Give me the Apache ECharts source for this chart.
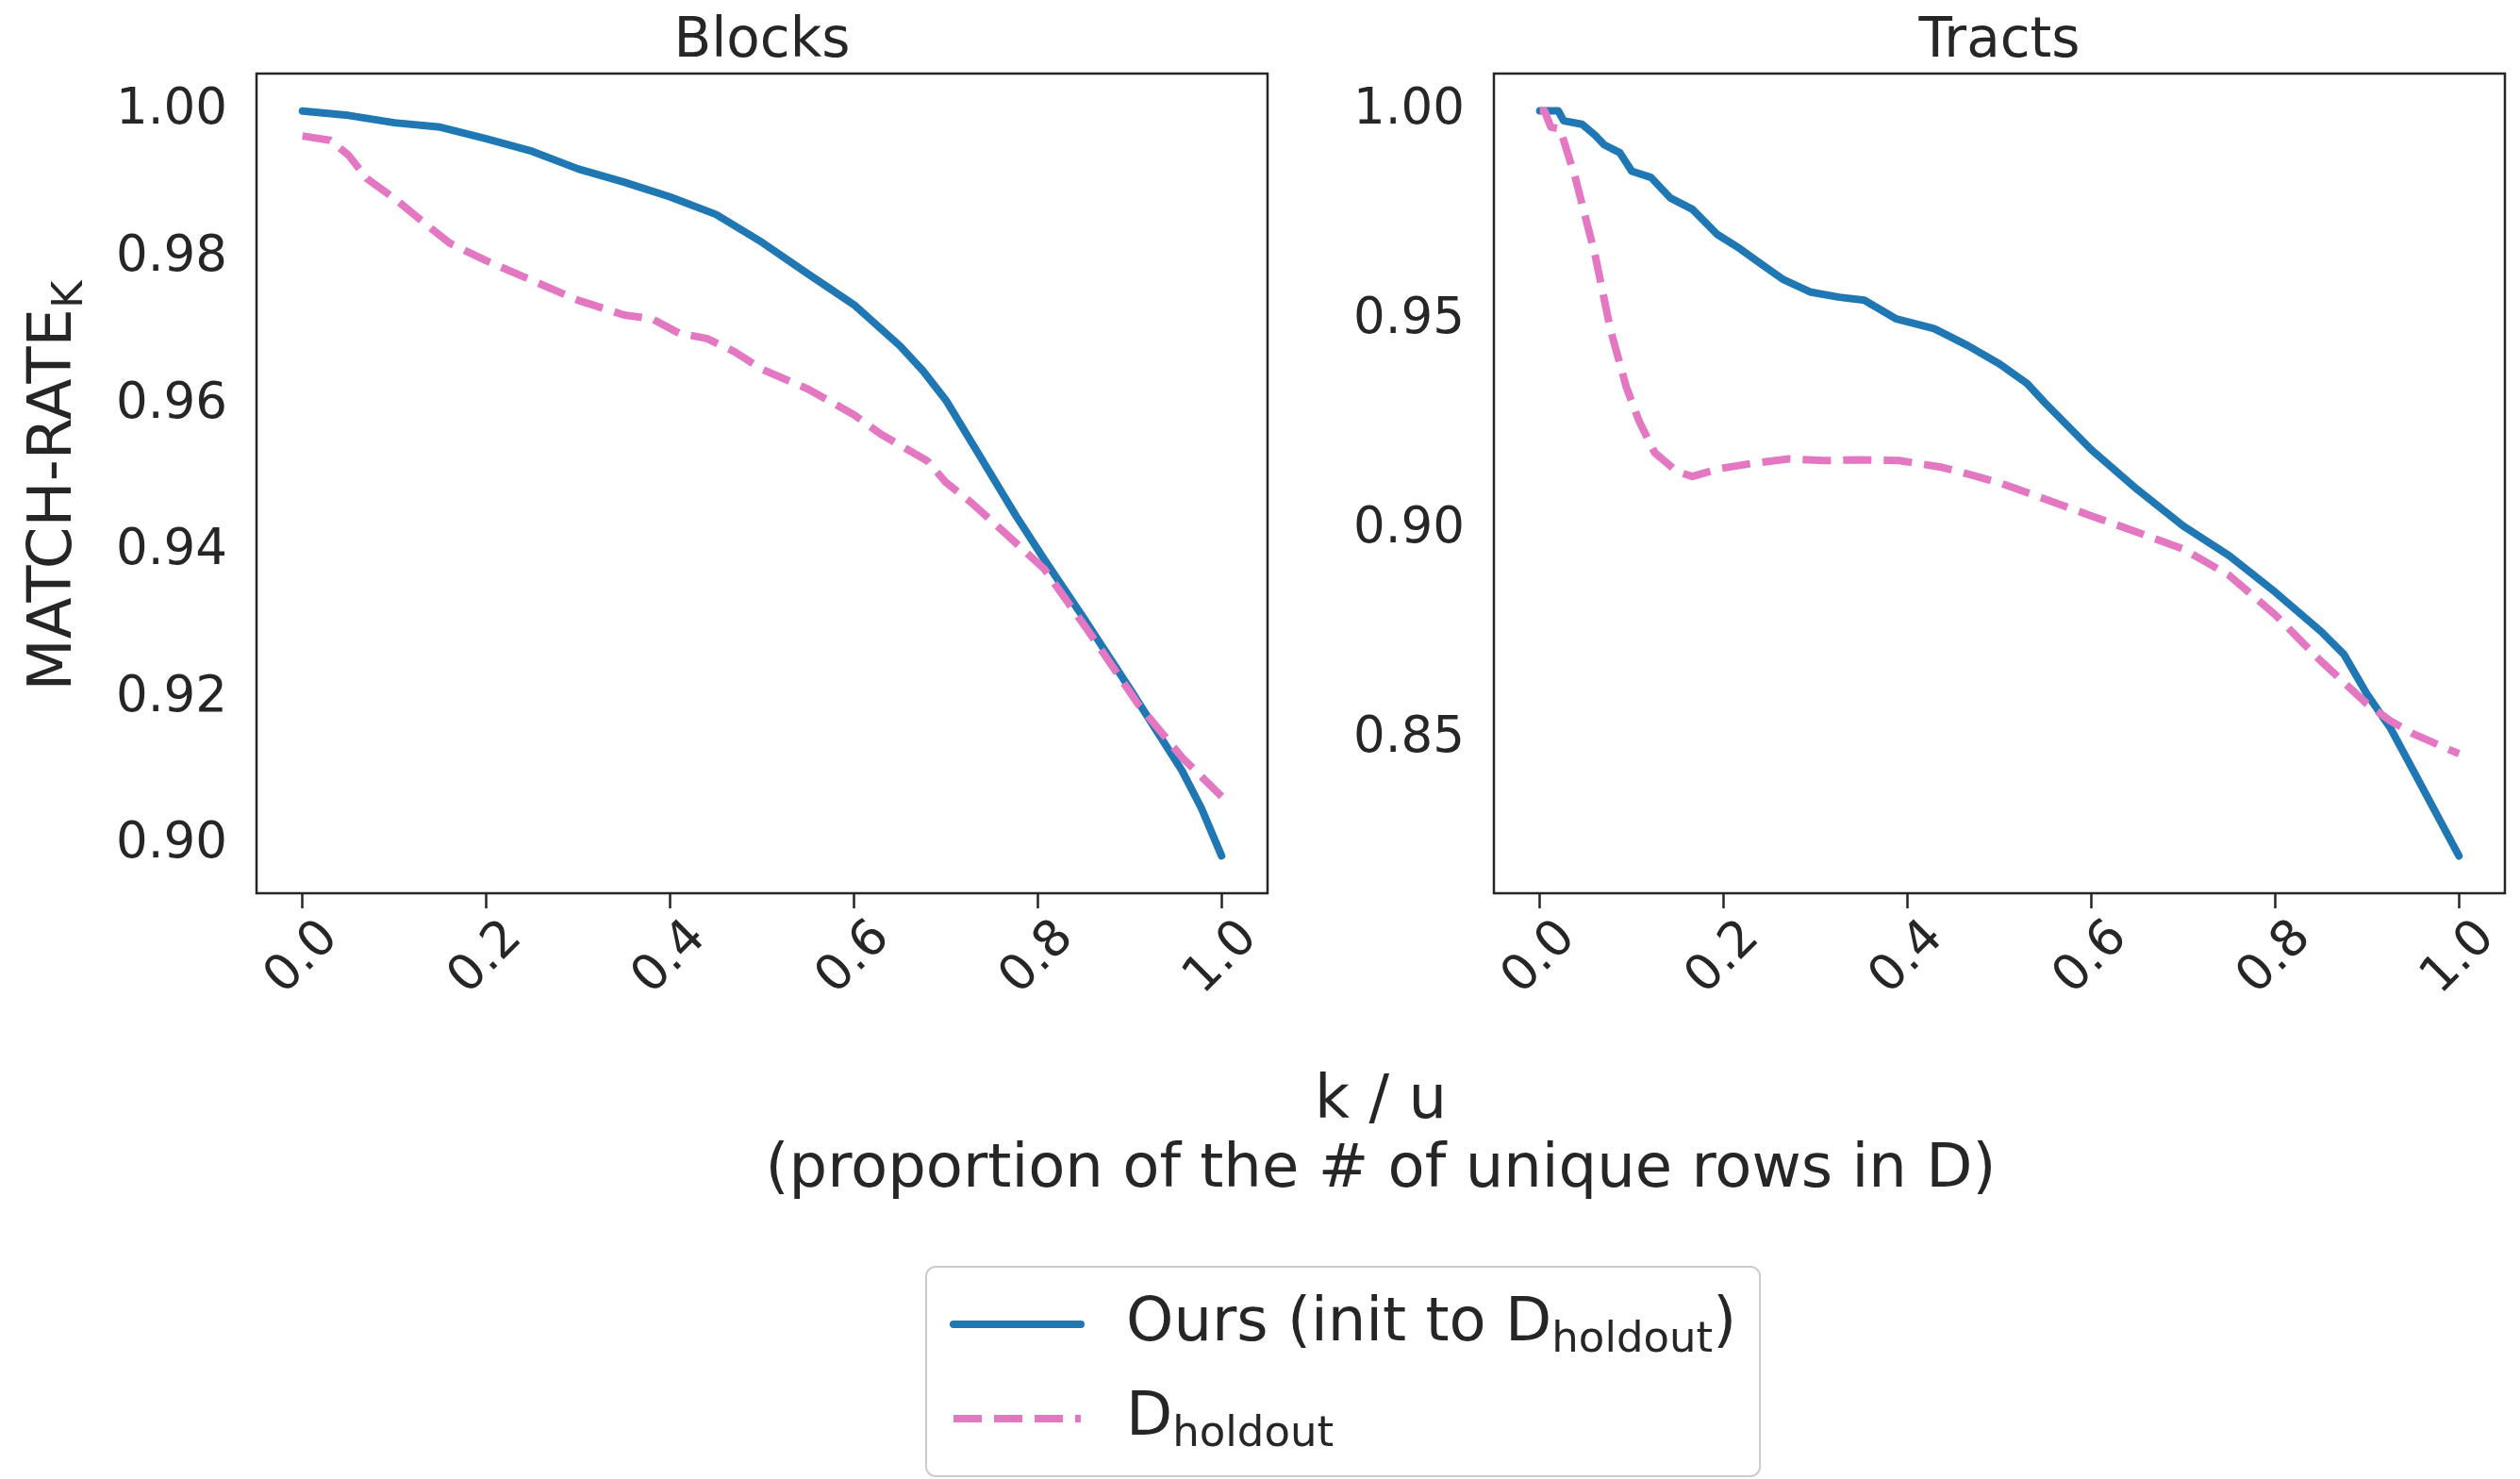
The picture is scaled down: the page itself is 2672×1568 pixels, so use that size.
<!DOCTYPE html>
<html>
<head>
<meta charset="utf-8">
<script src="https://cdn.jsdelivr.net/npm/echarts@6/dist/echarts.min.js"></script>
<style>
html,body{margin:0;padding:0;background:#ffffff;}
#chart{width:2672px;height:1568px;}
</style>
</head>
<body>
<div id="chart"></div>
<script>
// ---------- data ----------
const panelTitles = ['Blocks', 'Tracts'];
const xTicks = [0, 0.2, 0.4, 0.6, 0.8, 1.0];
const yTicksBlocks = [0.90, 0.92, 0.94, 0.96, 0.98, 1.00];
const yTicksTracts = [0.85, 0.90, 0.95, 1.00];

const blocksOursX = [0, 0.05, 0.1, 0.15, 0.2, 0.25, 0.3, 0.35, 0.4, 0.45, 0.5, 0.55, 0.6, 0.65, 0.675, 0.7, 0.735, 0.776, 0.807, 0.851, 0.902, 0.957, 0.978, 1.0];
const blocksOursY = [1.000, 0.9994, 0.9984, 0.9978, 0.9962, 0.9945, 0.9921, 0.9903, 0.9883, 0.9859, 0.9821, 0.9778, 0.9736, 0.9680, 0.9646, 0.9606, 0.9534, 0.9449, 0.9389, 0.9307, 0.9209, 0.9101, 0.9050, 0.8985];

const blocksHoldX = [0, 0.03, 0.05, 0.07, 0.1, 0.13, 0.16, 0.2, 0.25, 0.3, 0.35, 0.38, 0.41, 0.44, 0.47, 0.5, 0.55, 0.6, 0.63, 0.68, 0.7, 0.728, 0.766, 0.807, 0.858, 0.909, 0.957, 1.0];
const blocksHoldY = [0.9966, 0.9960, 0.9940, 0.9908, 0.9881, 0.9850, 0.9820, 0.9796, 0.9769, 0.9742, 0.9722, 0.9717, 0.9697, 0.9690, 0.9672, 0.9648, 0.9621, 0.9586, 0.9559, 0.9523, 0.9494, 0.9466, 0.9423, 0.9376, 0.9286, 0.9192, 0.9119, 0.9066];

const tractsOursX = [0, 0.02, 0.026, 0.046, 0.06, 0.07, 0.087, 0.1, 0.121, 0.142, 0.166, 0.193, 0.217, 0.241, 0.265, 0.295, 0.326, 0.353, 0.388, 0.429, 0.466, 0.5, 0.53, 0.55, 0.6, 0.65, 0.7, 0.75, 0.8, 0.85, 0.875, 0.9, 0.925, 0.95, 1.0];
const tractsOursY = [1.000, 1.000, 0.9976, 0.9968, 0.9942, 0.9919, 0.9900, 0.9856, 0.9841, 0.9792, 0.9765, 0.9705, 0.9672, 0.9634, 0.9597, 0.9567, 0.9555, 0.9548, 0.9503, 0.9480, 0.9439, 0.9396, 0.9349, 0.9302, 0.9191, 0.9096, 0.9009, 0.8938, 0.8851, 0.8757, 0.8702, 0.8607, 0.8528, 0.8426, 0.8221];

const tractsHoldX = [0, 0.005, 0.012, 0.022, 0.039, 0.06, 0.077, 0.094, 0.108, 0.125, 0.149, 0.166, 0.196, 0.23, 0.271, 0.309, 0.35, 0.391, 0.435, 0.469, 0.5, 0.55, 0.6, 0.65, 0.7, 0.75, 0.8, 0.85, 0.9, 0.925, 0.95, 1.0];
const tractsHoldY = [1.000, 1.000, 0.9961, 0.9957, 0.9837, 0.9657, 0.9476, 0.9341, 0.9259, 0.9184, 0.9139, 0.9127, 0.9146, 0.9158, 0.9169, 0.9165, 0.9167, 0.9165, 0.9150, 0.9131, 0.9112, 0.9073, 0.9033, 0.8994, 0.8954, 0.8891, 0.8797, 0.8686, 0.8584, 0.8544, 0.8513, 0.8465];

// ---------- style ----------
const FONT = 'DejaVu Sans';
const INK = '#262626';
const BLUE = '#1f77b4';
const PINK = '#e377c2';
const TICK_FONT = 53;

function zip(xs, ys) { return xs.map((x, i) => [x, ys[i]]); }

const richStyles = {
  a: { fontSize: 64, lineHeight: 80, color: INK, fontFamily: FONT },
  s: { fontSize: 45, lineHeight: 44, verticalAlign: 'bottom', color: INK, fontFamily: FONT }
};

function makeX(idx) {
  return {
    gridIndex: idx, type: 'value', min: -0.05, max: 1.05,
    axisLine: { show: false },
    splitLine: { show: false },
    axisTick: { show: true, customValues: xTicks, length: 16, lineStyle: { color: INK, width: 2.5 } },
    axisLabel: {
      customValues: xTicks, rotate: 45, align: 'center', verticalAlign: 'middle',
      margin: 69, fontSize: TICK_FONT, color: INK, fontFamily: FONT,
      formatter: v => v.toFixed(1)
    }
  };
}
function makeY(idx, min, max, ticks) {
  return {
    gridIndex: idx, type: 'value', min: min, max: max,
    axisLine: { show: false },
    splitLine: { show: false },
    axisTick: { show: false },
    axisLabel: {
      customValues: ticks, margin: 31, fontSize: TICK_FONT, color: INK, fontFamily: FONT,
      formatter: v => v.toFixed(2)
    }
  };
}
function makeLine(name, xi, data, color, dashed) {
  return {
    type: 'line', name: name, xAxisIndex: xi, yAxisIndex: xi,
    data: data, symbol: 'none', showSymbol: false, smooth: false,
    clip: true,
    lineStyle: { color: color, width: 8, type: dashed ? [30, 13] : 'solid', cap: dashed ? 'butt' : 'round', join: 'round' },
    itemStyle: { color: color },
    emphasis: { disabled: true }
  };
}

const chart = echarts.init(document.getElementById('chart'), null, { renderer: 'canvas' });
chart.setOption({
  animation: false,
  backgroundColor: '#ffffff',
  grid: [
    { left: 272, top: 78, width: 1072, height: 869, show: true, borderColor: INK, borderWidth: 2.5, backgroundColor: 'transparent' },
    { left: 1584, top: 78, width: 1072, height: 869, show: true, borderColor: INK, borderWidth: 2.5, backgroundColor: 'transparent' }
  ],
  xAxis: [makeX(0), makeX(1)],
  yAxis: [
    makeY(0, 0.8934, 1.0051, yTicksBlocks),
    makeY(1, 0.8132, 1.0089, yTicksTracts)
  ],
  legend: {
    data: ['ours', 'holdout'],
    orient: 'vertical', left: 982, top: 1343,
    padding: [29, 25, 21, 25], itemGap: 28, itemWidth: 135, itemHeight: 8,
    backgroundColor: 'rgba(255,255,255,0.8)', borderColor: '#cccccc', borderWidth: 2, borderRadius: 10,
    lineStyle: { width: 8 },
    selectedMode: false,
    formatter: name => name === 'ours' ? '{a|Ours (init to D}{s|holdout}{a|)}' : '{a|D}{s|holdout}',
    textStyle: { padding: [0, 0, 0, 43], color: INK, fontFamily: FONT, fontSize: 64, rich: richStyles }
  },
  graphic: [
    { type: 'text', x: 808, y: 45, style: { text: panelTitles[0], fontSize: 58, fontFamily: FONT, fill: INK, align: 'center', verticalAlign: 'middle' } },
    { type: 'text', x: 2120, y: 45, style: { text: panelTitles[1], fontSize: 58, fontFamily: FONT, fill: INK, align: 'center', verticalAlign: 'middle' } },
    { type: 'text', x: 1464, y: 1205, style: { text: 'k / u\n(proportion of the # of unique rows in D)', fontSize: 64, lineHeight: 73, fontFamily: FONT, fill: INK, align: 'center', verticalAlign: 'middle' } },
    { type: 'text', x: 58, y: 515, rotation: Math.PI / 2, style: { text: '{a|MATCH-RATE}{s|K}', rich: richStyles, fontFamily: FONT, fill: INK, align: 'center', verticalAlign: 'middle' } }
  ],
  series: [
    makeLine('ours', 0, zip(blocksOursX, blocksOursY), BLUE, false),
    makeLine('holdout', 0, zip(blocksHoldX, blocksHoldY), PINK, true),
    makeLine('ours', 1, zip(tractsOursX, tractsOursY), BLUE, false),
    makeLine('holdout', 1, zip(tractsHoldX, tractsHoldY), PINK, true)
  ]
});
</script>
</body>
</html>
